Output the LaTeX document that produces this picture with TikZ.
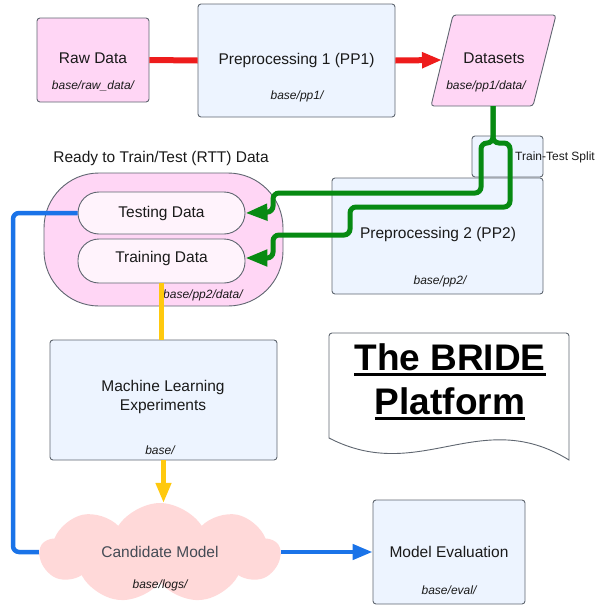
\documentclass[tikz,border=0pt]{standalone}
\usepackage{fontspec}
\setmainfont{Liberation Sans}
\usetikzlibrary{arrows.meta,shapes.symbols}
\definecolor{pinkfill}{HTML}{FFD6F5}
\definecolor{bluefill}{HTML}{EDF4FF}
\definecolor{edgec}{HTML}{5F6670}
\definecolor{innerfill}{HTML}{FFF3FC}
\definecolor{cloudfill}{HTML}{FFD9D9}
\definecolor{redc}{HTML}{EE1C1C}
\definecolor{greenc}{HTML}{078A12}
\definecolor{yellowc}{HTML}{FFC90E}
\definecolor{bluec}{HTML}{1A73E8}
\definecolor{textc}{HTML}{1A1A1A}
\definecolor{graytext}{HTML}{444B55}
\newcommand\ulbox[1]{\setbox0=\hbox{#1}\rlap{\raisebox{-6pt}{\rule{\wd0}{3pt}}}\box0}
\tikzset{
  mainfont/.style={font=\fontsize{15.5}{19}\selectfont, text=textc},
  pathlabel/.style={font=\fontsize{12}{14}\selectfont\itshape, text=textc, inner sep=0pt},
  pinkbox/.style={draw=edgec, line width=0.9pt, fill=pinkfill, rounded corners=3pt, inner sep=0pt, mainfont},
  bluebox/.style={draw=edgec, line width=0.9pt, fill=bluefill, rounded corners=3pt, inner sep=0pt, mainfont},
  pill/.style={draw=edgec, line width=0.9pt, fill=innerfill, rounded corners=21pt, inner sep=0pt, mainfont, minimum width=167pt},
  redline/.style={draw=redc, line width=6pt},
  greenline/.style={draw=greenc, line width=5pt, rounded corners=6pt, -{Triangle[length=22pt,width=16pt]}},
  yellowline/.style={draw=yellowc, line width=4.5pt},
  blueline/.style={draw=bluec, line width=4.5pt, rounded corners=6pt},
  bigtip/.style={-{Triangle[length=20pt,width=15pt]}},
  titlefont/.style={font=\fontsize{37}{44}\selectfont\bfseries, text=black, inner sep=0pt}
}
\begin{document}
\begin{tikzpicture}[x=1pt,y=-1pt]
\useasboundingbox (0,0) rectangle (599,605);

% top row
\node[pinkbox, minimum width=112pt, minimum height=84pt] (raw) at (93,60) {};
\node[mainfont] (rawt) at (93,58) {Raw Data};
\node[pathlabel] (rawp) at (93,86) {base/raw\_data/};

\node[bluebox, minimum width=197pt, minimum height=113pt] (pp1) at (296.5,60.5) {Preprocessing 1 (PP1)};
\node[pathlabel] (pp1p) at (297,96) {base/pp1/};

\draw[draw=edgec, line width=0.9pt, fill=pinkfill, rounded corners=3pt] (453,15) -- (556,15) -- (533,106) -- (431,106) -- cycle;
\node[mainfont] (datasets) at (494,58) {Datasets};
\node[pathlabel] (dsp) at (486,86) {base/pp1/data/};
\coordinate (dsleft) at (442,60);
\coordinate (dsbot) at (493,106);

\draw[redline] (raw.east) -- (pp1.west);
\draw[redline, bigtip] (pp1.east) -- (dsleft);

% RTT group
\node[mainfont] (rttlabel) at (161,158) {Ready to Train/Test (RTT) Data};
\node[draw=edgec, line width=0.9pt, fill=pinkfill, rounded corners=55pt, minimum width=239pt, minimum height=133pt] (rtt) at (163.5,239.5) {};
\node[pill, minimum height=42pt] (testing) at (161.5,213) {Testing Data};
\node[pill, minimum height=44pt] (training) at (161.5,261) {};
\node[mainfont] (trainingt) at (161.5,258) {Training Data};
\node[pathlabel, anchor=west] (pp2dp) at (163,295) {base/pp2/data/};

% PP2 and split
\node[bluebox, minimum width=211pt, minimum height=116pt] (pp2) at (437.5,236) {};
\node[mainfont] (pp2t) at (438,234) {Preprocessing 2 (PP2)};
\node[pathlabel] (pp2p) at (440,281) {base/pp2/};
\node[bluebox, minimum width=71pt, minimum height=41pt] (tts) at (507.5,156.5) {};
\node[font=\fontsize{12}{14}\selectfont, text=textc, anchor=west, inner sep=0pt] (ttslabel) at (515,157) {Train-Test Split};
\coordinate (split) at (493,143);

\draw[greenline] (dsbot) -- (split) -- (481,143) -- (481,193) -- (273,193) -- (273,212) -- (testing.east);
\draw[greenline] (dsbot) -- (split) -- (510,143) -- (510,207) -- (350,207) -- (350,235) -- (273,235) -- (273,258) -- (training.east |- 0,258);

% ML
\node[bluebox, minimum width=227pt, minimum height=120pt] (ml) at (163.5,400) {};
\node[mainfont, align=center] (mlt) at (163,397) {Machine Learning\\Experiments};
\node[pathlabel] (mlp) at (160,450) {base/};
\draw[yellowline] (training.south) -- (training.south |- ml.north);

% cloud
\node[cloud, cloud puffs=9, cloud puff arc=115, aspect=2.4, fill=cloudfill, draw=none, minimum width=240pt, minimum height=100pt, inner sep=0pt] (cand) at (160,553) {};
\node[mainfont, text=graytext] (candt) at (160,552) {Candidate Model};
\node[pathlabel] (candp) at (160,585) {base/logs/};
\draw[yellowline, bigtip] (ml.south) -- (ml.south |- cand.north);

% model evaluation
\node[bluebox, minimum width=152pt, minimum height=104pt] (mev) at (449,552) {Model Evaluation};
\node[pathlabel] (mevp) at (449,590) {base/eval/};

\draw[blueline] (testing.west) -- (13,213) -- (13,552) -- (cand.west |- 0,552);
\draw[blueline, bigtip, rounded corners=0pt] (cand.east |- 0,552) -- (mev.west |- 0,552);

% BRIDE document
\draw[draw=edgec, line width=0.9pt, fill=white] (329,438) [rounded corners=3pt] -- (329,333) -- (569,333) [sharp corners] -- (569,460) .. controls (480,405) and (420,485) .. (329,438) -- cycle;
\node[titlefont, anchor=base] (bride1) at (450,370) {\ulbox{The BRIDE}};
\node[titlefont, anchor=base] (bride2) at (450,414) {\ulbox{Platform}};
\end{tikzpicture}
\end{document}
